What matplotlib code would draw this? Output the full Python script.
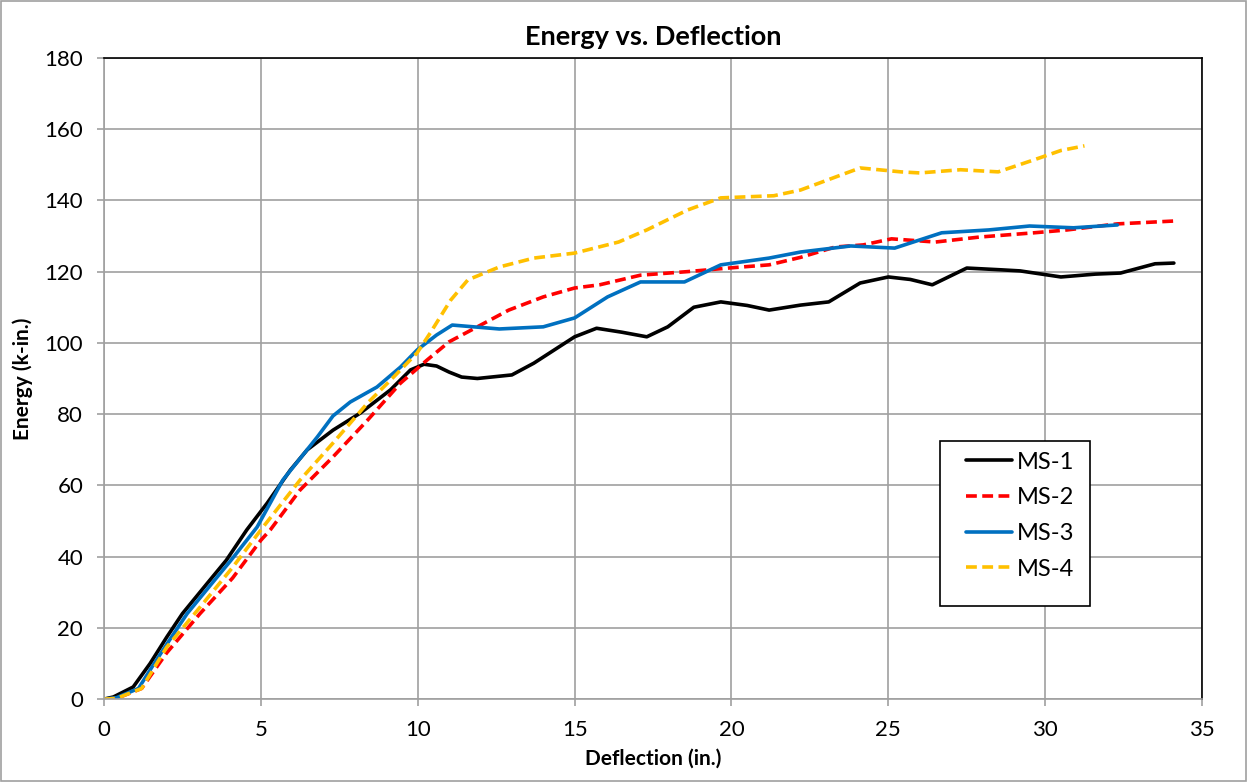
import matplotlib
matplotlib.use("Agg")
import matplotlib.pyplot as plt
from matplotlib.patches import Rectangle

plt.rcParams['font.family'] = ['Lato', 'DejaVu Sans']

# data (deflection in., energy k-in.)
ms1_x = [0, 0.3, 0.93, 1.47, 2.0, 2.5, 3.3, 3.9, 4.55, 5.2, 5.94, 6.48, 7.3, 8.17, 9.13, 9.77,
         10.2, 10.6, 11.0, 11.4, 11.9, 13.0, 13.7, 15.0, 15.7, 16.5, 17.3, 17.97, 18.8, 19.66,
         20.5, 21.2, 22.2, 23.1, 24.1, 25.0, 25.7, 26.4, 27.5, 28.6, 29.2, 30.5, 31.6, 32.4,
         33.5, 34.1]
ms1_y = [0, 0.6, 3.4, 10, 17.4, 24, 32.6, 39, 47.5, 55, 64.3, 70, 75.5, 80.3, 86.8, 92.4,
         94, 93.5, 91.8, 90.4, 90.0, 91.0, 94.3, 101.7, 104.1, 103.0, 101.7, 104.5, 110, 111.5,
         110.5, 109.2, 110.6, 111.5, 116.8, 118.5, 117.8, 116.3, 121, 120.5, 120.2, 118.5, 119.3, 119.6,
         122.2, 122.4]

ms2_x = [0, 0.4, 1.2, 2.0, 3.06, 4.1, 5.0, 5.3, 6.25, 7.3, 8.4, 9.45, 10.3, 11.0, 11.9, 12.9,
         14.0, 15.0, 15.8, 17.1, 18.6, 19.9, 21.2, 22.2, 23.3, 24.2, 25.1, 26.5, 27.9, 29.65,
         30.7, 32.3, 34.1]
ms2_y = [0, 0.2, 3.0, 13, 24, 34, 44.6, 47.5, 58.7, 68, 78.3, 88.7, 95.2, 100.3, 104.5, 109.2,
         112.9, 115.4, 116.3, 119, 120, 121, 121.9, 124, 126.9, 127.5, 129.2, 128.3, 129.7, 130.9,
         131.7, 133.4, 134.2]

ms3_x = [0, 0.4, 1.1, 1.6, 2.15, 2.65, 3.45, 4.05, 4.88, 5.7, 6.8, 7.3, 7.85, 8.7, 9.45, 9.98,
         10.6, 11.1, 12.6, 14.0, 15.0, 16.05, 17.1, 18.5, 19.66, 21.2, 22.2, 23.8, 25.2, 26.7,
         28.2, 29.5, 30.9, 32.3]
ms3_y = [0, 0.4, 3.0, 10, 17.4, 24, 32.6, 39, 48.3, 61.5, 73.6, 79.5, 83.4, 87.6, 93.2, 98,
         102.2, 105, 103.9, 104.5, 107, 112.9, 117.1, 117.1, 121.9, 123.8, 125.5, 127.2, 126.6, 130.9,
         131.7, 132.8, 132.3, 133.1]

ms4_x = [0, 0.4, 1.2, 2.0, 3.06, 4.1, 5.07, 6.25, 7.3, 8.4, 9.23, 9.98, 10.4, 11.05, 11.6,
         12.6, 13.7, 15.0, 16.4, 17.3, 18.6, 19.66, 21.35, 22.2, 23.3, 24.1, 25.4, 26.0, 27.3,
         28.5, 29.65, 30.5, 31.25]
ms4_y = [0, 0.2, 3.0, 14.6, 25.8, 37, 48.3, 61.5, 71.9, 83.1, 90.4, 97.2, 102.8, 112, 117.7,
         121.3, 123.8, 125.2, 128.3, 131.7, 137.3, 140.7, 141.3, 142.9, 146.5, 149.1, 148, 147.7, 148.6,
         148, 151.4, 154.0, 155.3]

series = [("MS-1", ms1_x, ms1_y, "#000000", "-"),
          ("MS-2", ms2_x, ms2_y, "#ff0000", "--"),
          ("MS-3", ms3_x, ms3_y, "#0070c0", "-"),
          ("MS-4", ms4_x, ms4_y, "#ffc000", "--")]

fig = plt.figure(figsize=(12.47, 7.82), dpi=100)
ax = fig.add_axes([0.0834, 0.106, 0.8806, 0.820])

for name, xs, ys, col, ls in series:
    line, = ax.plot(xs, ys, color=col, lw=2.6, ls=ls, label=name,
                    solid_joinstyle='round', solid_capstyle='round')
    if ls == "--":
        line.set_dashes((3.0, 1.5))

ax.set_xlim(0, 35)
ax.set_ylim(0, 180)
ax.set_xticks(range(0, 36, 5))
ax.set_yticks(range(0, 181, 20))
ax.grid(True, color="#a0a0a0", lw=1.2)
ax.set_axisbelow(True)

for s in ["top", "right"]:
    ax.spines[s].set_color("black")
    ax.spines[s].set_linewidth(1.2)
for s in ["left", "bottom"]:
    ax.spines[s].set_color("#a0a0a0")
    ax.spines[s].set_linewidth(1.2)
ax.tick_params(axis='both', colors="#a0a0a0", labelcolor="black", labelsize=16,
               length=5, width=1.2, pad=10)

ax.set_title("Energy vs. Deflection", fontsize=19.5, fontweight='bold', pad=9)
ax.set_xlabel("Deflection (in.)", fontsize=15, fontweight='bold', labelpad=6)
ax.set_ylabel("Energy (k-in.)", fontsize=15, fontweight='bold', labelpad=8)

# legend box drawn by hand, entries placed inside it
ax.add_patch(Rectangle((0.7614, 0.1451), 0.1366, 0.2574, transform=ax.transAxes,
                       facecolor="white", edgecolor="black", lw=1.2, zorder=5))
leg = ax.legend(loc='upper left', bbox_to_anchor=(0.785, 0.386), frameon=False,
                fontsize=17, borderpad=0, borderaxespad=0, labelspacing=0.62,
                handlelength=1.95, handletextpad=0.2)
leg.set_zorder(6)

fig.patches.append(Rectangle((0.001, 0.001), 0.998, 0.998, transform=fig.transFigure,
                             fill=False, edgecolor="#a0a0a0", lw=1.2))

fig.savefig("out.png", dpi=100)
